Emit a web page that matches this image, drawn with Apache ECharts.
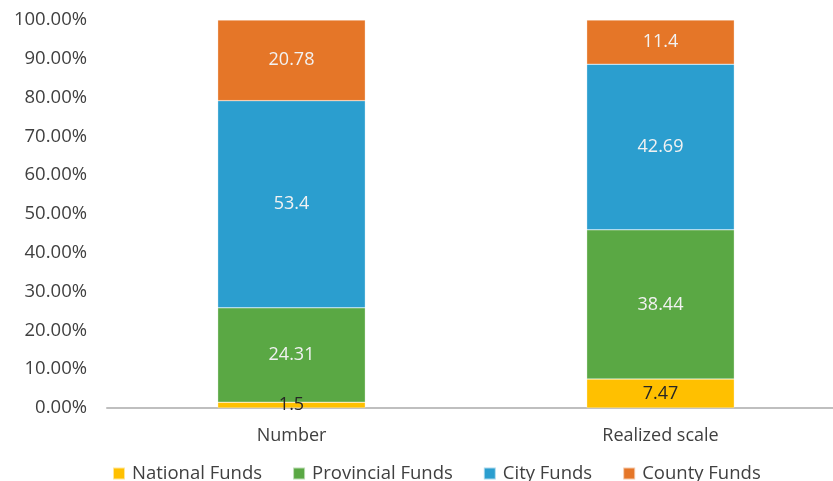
<!DOCTYPE html>
<html><head><meta charset="utf-8">
<script src="https://cdn.jsdelivr.net/npm/echarts@6/dist/echarts.min.js"></script>
<style>html,body{margin:0;padding:0;background:#fff}#c{width:833px;height:481px}</style>
</head><body><div id="c"></div>
<script>
const categories = ['Number', 'Realized scale'];
const seriesNames = ['National Funds', 'Provincial Funds', 'City Funds', 'County Funds'];
const nationalFunds = [1.5, 7.47];
const provincialFunds = [24.31, 38.44];
const cityFunds = [53.4, 42.69];
const countyFunds = [20.78, 11.4];
const yTicks = [0, 10, 20, 30, 40, 50, 60, 70, 80, 90, 100];

const colors = ['#FFC000', '#5AA844', '#2B9ECF', '#E57628'];
const labelColors = ['#262626', '#F2F2F2', '#F2F2F2', '#F2F2F2'];
const font = 'Open Sans';
const dataSets = [nationalFunds, provincialFunds, cityFunds, countyFunds];

const chart = echarts.init(document.getElementById('c'), null, {renderer: 'canvas'});
chart.setOption({
  animation: false,
  textStyle: {fontFamily: font},
  grid: {left: 107, top: 20, bottom: 73, right: -12, outerBoundsMode: 'none', containLabel: false},
  legend: {
    top: 464, left: 112, padding: 0, itemWidth: 12, itemHeight: 12, itemGap: 30,
    icon: 'rect',
    textStyle: {fontFamily: font, fontSize: 18.5, color: '#404040', padding: [0, 0, 0, 2]},
    data: seriesNames
  },
  xAxis: {
    type: 'category', data: categories,
    axisLine: {lineStyle: {color: '#BFBFBF', width: 2}},
    axisTick: {show: false},
    axisLabel: {fontFamily: font, fontSize: 18, color: '#404040', margin: 19}
  },
  yAxis: {
    type: 'value', min: 0, max: 100, interval: 10,
    axisLine: {show: false}, axisTick: {show: false},
    splitLine: {show: false},
    axisLabel: {fontFamily: font, fontSize: 18.5, color: '#404040', margin: 20,
      formatter: v => yTicks.includes(v) ? v.toFixed(2) + '%' : ''}
  },
  series: dataSets.map((d, i) => ({
    name: seriesNames[i], type: 'bar', stack: 'total', data: d,
    barWidth: '40%',
    itemStyle: {color: colors[i], borderColor: 'rgba(255,255,255,0.6)', borderWidth: 0.5},
    label: {show: true, position: 'inside', color: labelColors[i], fontFamily: font, fontSize: 18,
      formatter: p => String(p.value)}
  }))
});
</script></body></html>
